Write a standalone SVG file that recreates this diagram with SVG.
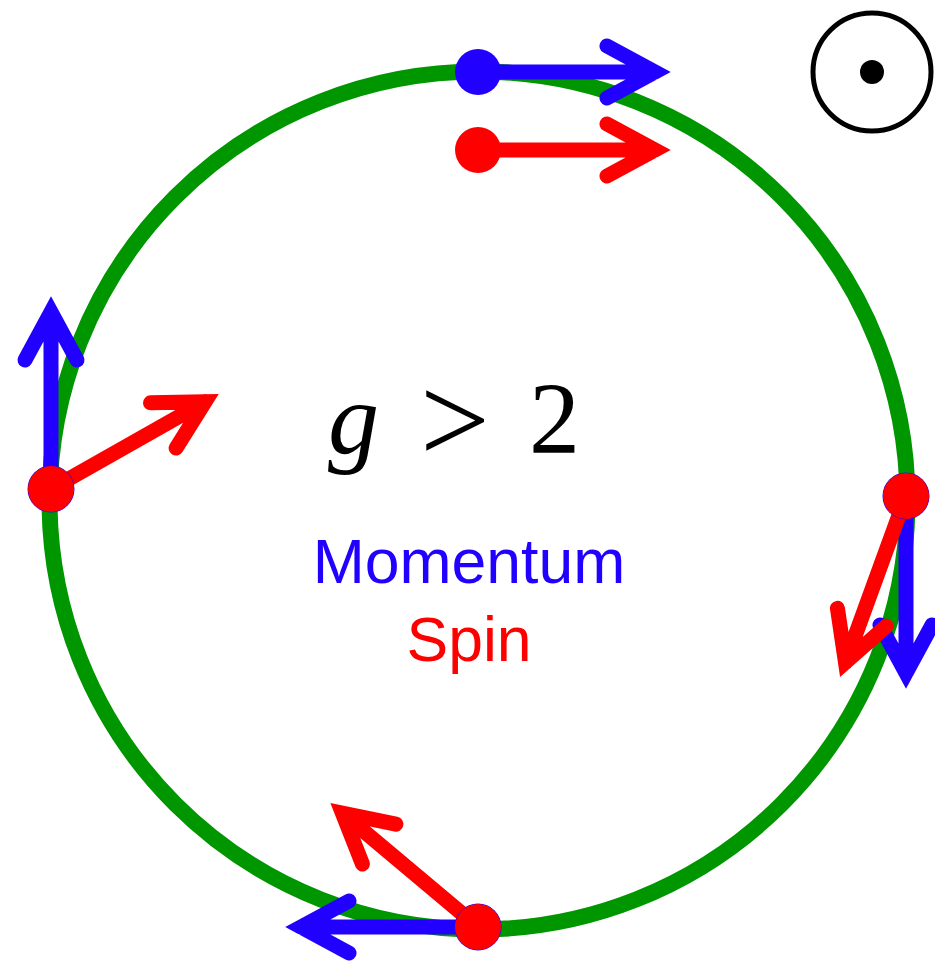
<svg xmlns="http://www.w3.org/2000/svg" xmlns:xlink="http://www.w3.org/1999/xlink" width="935" height="962" viewBox="0 0 935 962">
<style>
.orbit{fill:none;stroke:#009600;stroke-width:16}
.arr{fill:none;stroke-width:15;stroke-linecap:round;stroke-linejoin:miter;stroke-miterlimit:10}
.mom{stroke:#2200ff}
.spin{stroke:#ff0000}
.dm{fill:#2200ff}
.ds{fill:#ff0000}
.math{font-family:"Liberation Serif","Times New Roman",serif;font-size:102px;fill:#000}
.lbl{font-family:"Liberation Sans",Arial,sans-serif;font-size:62.5px;text-anchor:middle}
</style>
<defs>
<path id="arrow" d="M0,0 H177 M129,-26 L177,0 L129,26"/>
</defs>
<g id="orbit">
<circle class="orbit" cx="478.5" cy="500.5" r="429"/>
</g>
<g id="connectors">
<use xlink:href="#arrow" href="#arrow" class="arr mom" transform="translate(478,72)"/>
<use xlink:href="#arrow" href="#arrow" class="arr spin" transform="translate(478,150)"/>
<use xlink:href="#arrow" href="#arrow" class="arr mom" transform="translate(51,489) rotate(-90)"/>
<use xlink:href="#arrow" href="#arrow" class="arr spin" transform="translate(51,489) rotate(-29.5)"/>
<use xlink:href="#arrow" href="#arrow" class="arr mom" transform="translate(906,496) rotate(90)"/>
<use xlink:href="#arrow" href="#arrow" class="arr spin" transform="translate(906,496) rotate(110)"/>
<use xlink:href="#arrow" href="#arrow" class="arr mom" transform="translate(478,927) rotate(180)"/>
<use xlink:href="#arrow" href="#arrow" class="arr spin" transform="translate(478,927) rotate(220)"/>
</g>
<g id="top">
<circle class="dm" cx="478" cy="72" r="23"/>
<circle class="ds" cx="478" cy="150" r="23"/>
</g>
<g id="left">
<circle class="dm" cx="51" cy="489" r="23.5"/>
<circle class="ds" cx="51" cy="489" r="23"/>
</g>
<g id="right">
<circle class="dm" cx="906" cy="496" r="23.5"/>
<circle class="ds" cx="906" cy="496" r="23"/>
</g>
<g id="bottom">
<circle class="dm" cx="478" cy="927" r="23.5"/>
<circle class="ds" cx="478" cy="927" r="23"/>
</g>
<g id="odot">
<circle cx="872" cy="72" r="59" fill="none" stroke="#000" stroke-width="5"/>
<circle cx="872" cy="72" r="12" fill="#000"/>
</g>
<g id="label">
<text class="math" y="453"><tspan x="328" font-style="italic">g</tspan><tspan x="420" y="462" font-size="124">&gt;</tspan><tspan x="529" y="453">2</tspan></text>
<text class="lbl" x="469" y="583" fill="#2200ff">Momentum</text>
<text class="lbl" x="469" y="661" fill="#ff0000">Spin</text>
</g>
</svg>
